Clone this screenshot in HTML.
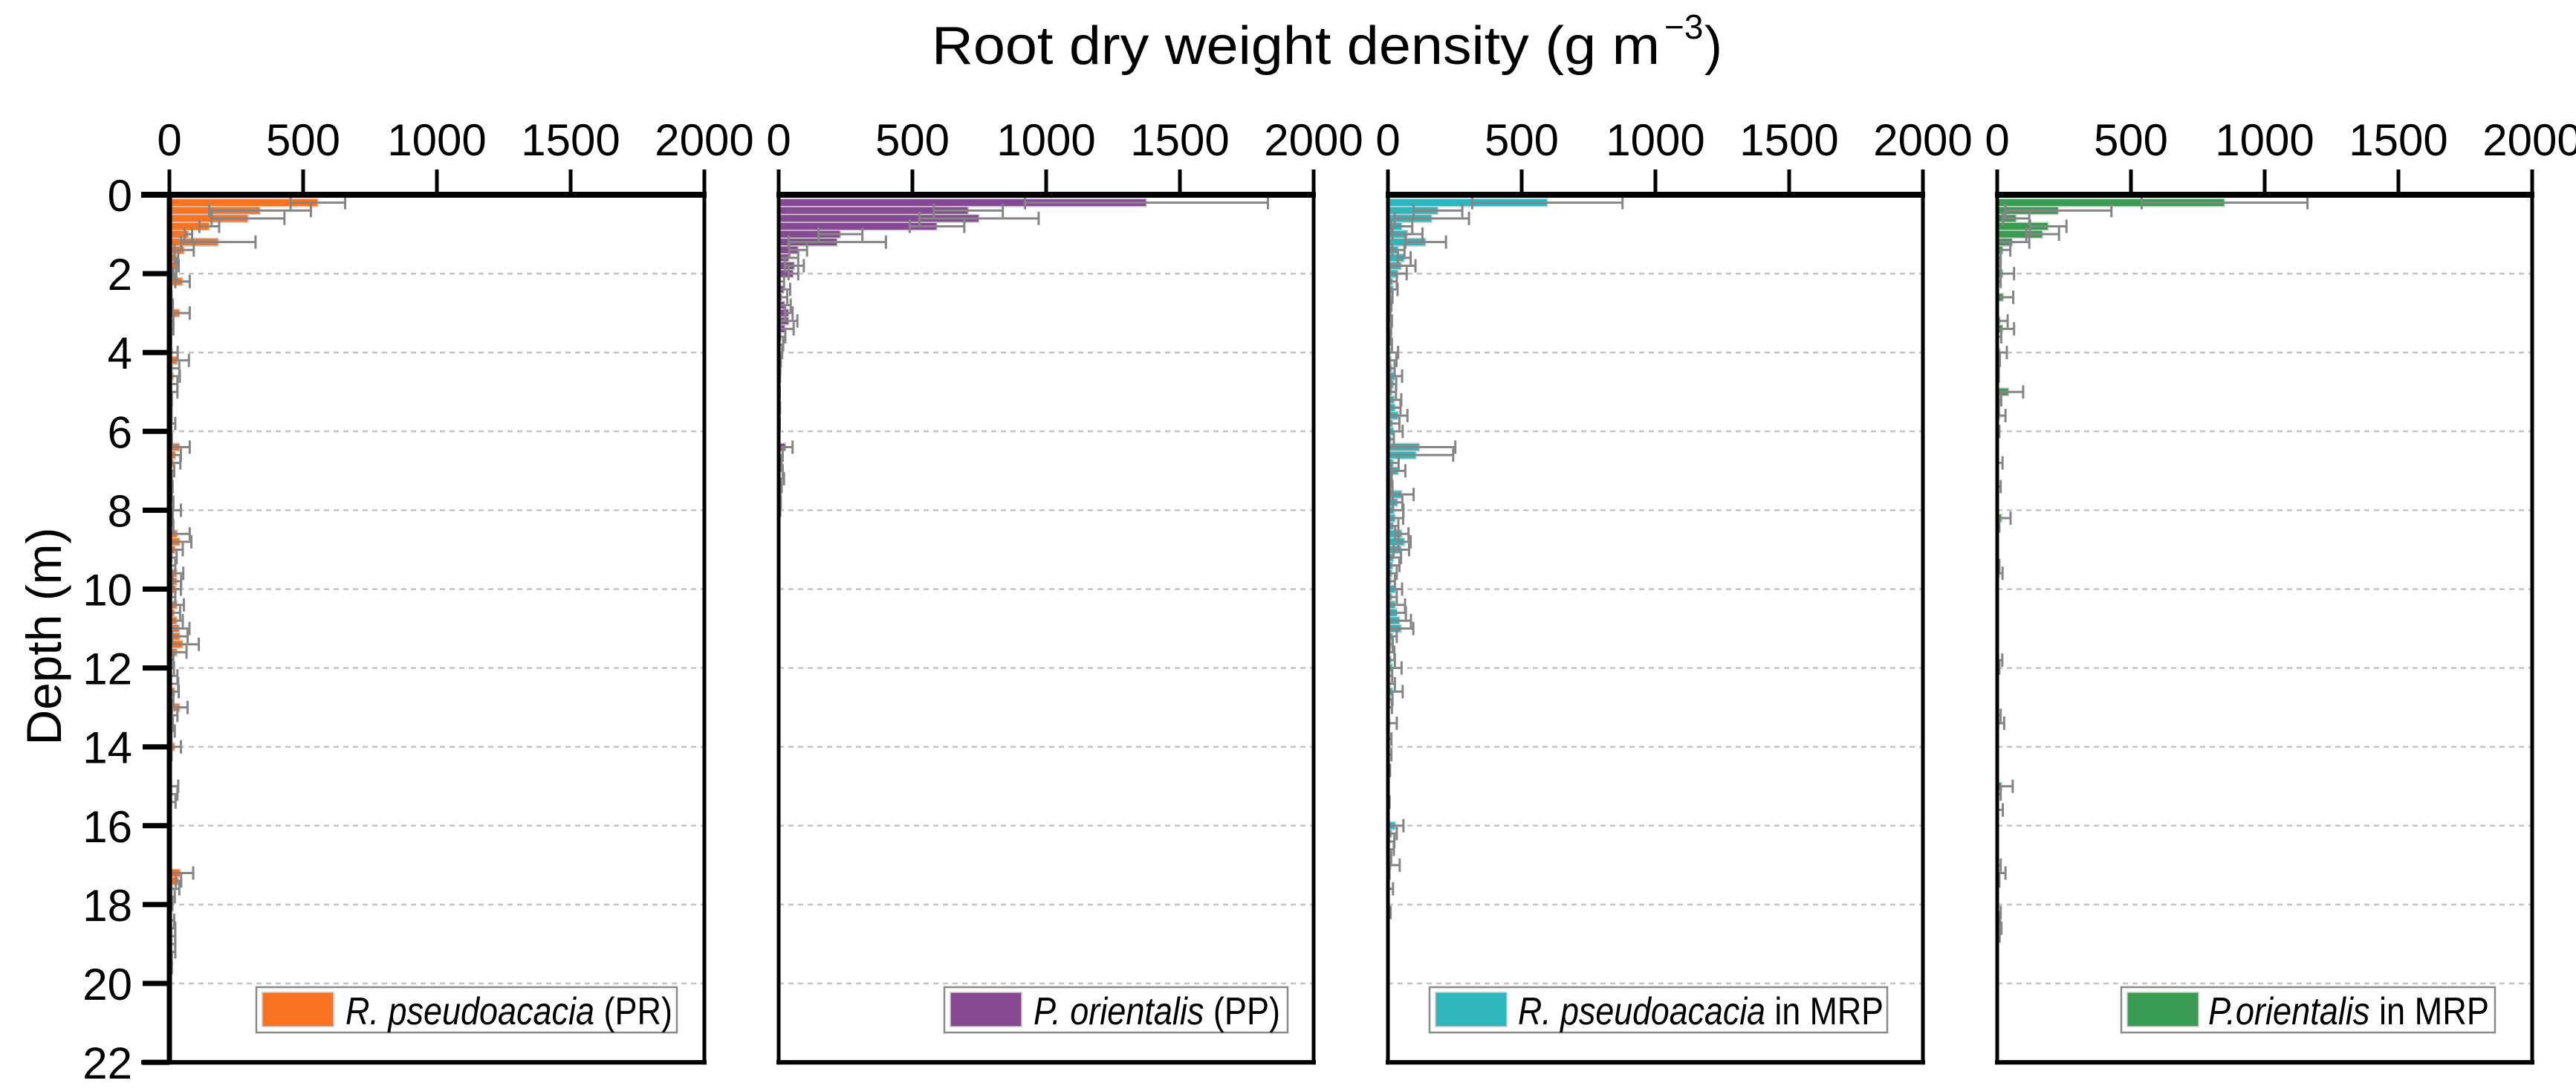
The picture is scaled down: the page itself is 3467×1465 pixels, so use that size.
<!DOCTYPE html>
<html><head><meta charset="utf-8"><title>Root dry weight density</title>
<style>html,body{margin:0;padding:0;background:#fff;}svg{display:block;}</style></head>
<body>
<svg id="chart" width="3467" height="1465" viewBox="0 0 3467 1465" xmlns="http://www.w3.org/2000/svg" font-family="Liberation Sans, Arial, sans-serif">
<text x="1254" y="86" font-size="72" textLength="980" lengthAdjust="spacingAndGlyphs">Root dry weight density (g m</text>
<text x="2240" y="52" font-size="46">−3</text>
<text x="2294" y="86" font-size="72">)</text>
<text transform="translate(82,856) rotate(-90)" text-anchor="middle" font-size="66" textLength="293" lengthAdjust="spacingAndGlyphs">Depth (m)</text>
<g id="panels"></g>
</svg>
<script>
// ---- data (depth in m, mean and sd in g m^-3) ----
const xTicks = [0, 500, 1000, 1500, 2000];
const yTicks = [0, 2, 4, 6, 8, 10, 12, 14, 16, 18, 20, 22];
const seriesNames = ["R. pseudoacacia", "P. orientalis", "R. pseudoacacia", "P.orientalis"];

const prDepth = [0.2,0.4,0.6,0.8,1.0,1.2,1.4,1.6,1.8,2.0,2.2,2.4,2.6,2.8,3.0,3.2,3.4,3.6,3.8,4.0,4.2,4.4,4.6,4.8,5.0,5.2,5.4,5.6,5.8,6.0,6.2,6.4,6.6,6.8,7.0,7.2,7.4,7.6,7.8,8.0,8.2,8.4,8.6,8.8,9.0,9.2,9.4,9.6,9.8,10.0,10.2,10.4,10.6,10.8,11.0,11.2,11.4,11.6,11.8,12.0,12.2,12.4,12.6,12.8,13.0,13.2,13.4,13.6,13.8,14.0,14.2,14.4,14.6,15.0,15.2,15.4,15.6,16.0,17.2,17.4,17.6,17.8,18.0,18.4,18.6,18.8,19.0,19.2,19.4,19.6];
const prMean = [555,339,294,149,71,183,55,26,30,20,49,3,3,5,38,3,3,2,2,11,30,12,15,10,10,3,3,3,8,2,3,38,23,15,8,3,4,3,5,15,5,5,30,39,22,11,8,28,28,25,10,29,18,28,37,39,50,29,5,5,8,5,20,5,39,10,5,5,3,20,3,2,2,8,8,8,2,2,41,34,12,10,5,8,10,10,10,10,5,5];
const prSd = [102,190,136,37,14,139,36,7,5,6,27,4,5,8,38,12,12,4,4,20,43,25,24,20,20,6,5,5,14,5,6,38,20,26,10,6,8,6,10,28,8,10,46,43,28,16,14,24,16,18,12,25,22,22,38,29,60,35,10,12,22,28,15,10,29,20,8,15,5,23,5,3,3,25,22,15,3,2,48,10,25,10,6,10,12,12,12,12,4,4];

const ppDepth = [0.2,0.4,0.6,0.8,1.0,1.2,1.4,1.6,1.8,2.0,2.2,2.4,2.6,2.8,3.0,3.2,3.4,3.6,3.8,4.0,4.2,4.4,4.6,5.0,5.4,5.8,6.4,6.6,6.8,7.0,7.2,7.4,7.6,7.8,8.0];
const ppMean = [1375,709,749,592,231,219,73,38,59,55,8,20,12,23,38,38,24,10,5,3,2,2,1,1,1,1,26,5,3,3,5,3,2,2,2];
const ppSd = [454,129,223,102,82,182,33,35,35,18,12,23,20,22,14,32,32,15,12,10,6,4,4,3,4,3,26,10,8,12,15,8,5,6,4];

const rmDepth = [0.2,0.4,0.6,0.8,1.0,1.2,1.4,1.6,1.8,2.0,2.2,2.4,2.6,2.8,3.0,3.2,3.4,3.6,3.8,4.0,4.2,4.4,4.6,4.8,5.0,5.2,5.4,5.6,5.8,6.0,6.2,6.4,6.6,6.8,7.0,7.2,7.4,7.6,7.8,8.0,8.2,8.4,8.6,8.8,9.0,9.2,9.4,9.6,9.8,10.0,10.2,10.4,10.6,10.8,11.0,11.2,11.4,11.6,11.8,12.0,12.2,12.4,12.6,12.8,13.0,13.4,13.8,14.2,14.6,15.4,16.0,16.2,16.4,16.6,16.8,17.0,17.2,17.6,18.2];
const rmMean = [596,187,164,52,73,141,39,61,50,38,18,20,12,5,3,5,4,3,5,10,12,15,27,21,15,24,27,39,18,21,12,118,105,20,39,9,12,52,36,24,27,21,52,62,50,21,18,15,12,28,15,28,35,44,50,17,12,6,12,17,8,8,18,9,5,8,3,3,2,2,28,15,7,5,5,12,3,3,5];
const rmSd = [281,91,139,39,56,76,23,24,53,32,15,16,5,8,6,10,8,8,10,28,20,10,26,10,15,26,20,34,25,34,10,134,139,20,26,5,5,44,18,34,30,18,25,23,29,28,25,18,14,25,18,36,32,42,45,16,6,18,14,34,8,18,37,8,10,25,10,10,6,4,30,18,17,17,7,32,3,16,5];

const pmDepth = [0.2,0.4,0.6,0.8,1.0,1.2,1.4,1.6,1.8,2.0,2.2,2.6,3.2,3.4,3.6,4.0,4.2,4.4,4.6,5.0,5.2,5.4,5.6,6.0,6.8,7.4,8.2,8.4,9.4,9.6,11.8,12.0,13.2,13.4,15.0,15.2,15.6,17.0,17.2,17.4,18.2,18.4,18.6,18.8];
const pmMean = [850,229,71,191,170,57,21,6,8,21,8,23,11,21,5,11,5,2,2,43,10,3,10,5,5,3,17,3,3,8,5,3,3,8,17,5,3,3,6,3,5,5,8,3];
const pmSd = [310,198,49,68,61,63,28,7,5,42,5,37,28,42,10,25,5,4,4,54,5,3,21,3,15,10,33,5,5,12,14,5,10,18,41,8,18,10,25,5,8,6,8,6];

const panelDepths = [prDepth, ppDepth, rmDepth, pmDepth];
const panelMeans = [prMean, ppMean, rmMean, pmMean];
const panelSds = [prSd, ppSd, rmSd, pmSd];

// ---- layout ----
const NS = "http://www.w3.org/2000/svg";
const colors = ["#F87422", "#854A92", "#2EB6BD", "#3A9B53"];
const legendBoxes = [[345,566,465,440," (PR)"],[1271,462,1391,332," (PP)"],[1924,616,2043,492," in MRP"],[2855,503,2972,378," in MRP"]];
const panelLeft0 = 228, panelStep = 820, panelW = 720;
const yTop = 262, pxPerM = 53.05, xMax = 2000;
function yScale(d){ return yTop + d * pxPerM; }
function mk(tag, attrs, parent){ const e = document.createElementNS(NS, tag); for (const k in attrs) e.setAttribute(k, attrs[k]); parent.appendChild(e); return e; }
const root = document.getElementById("panels");

for (let p = 0; p < 4; p++) {
  const L = panelLeft0 + p * panelStep, R = L + panelW;
  const xScale = v => L + v / xMax * panelW;
  const g = mk("g", {}, root);
  
  
  for (const t of yTicks) {
    if (t === 0 || t === 22) continue;
    const gl = mk("line", {x1: L, x2: R, y1: yScale(t), y2: yScale(t), stroke: "#c4c4c4", "stroke-width": 2.5, "stroke-dasharray": "7,6"}, g);
    
    
  }
  const dep = panelDepths[p], mean = panelMeans[p], sd = panelSds[p];
  const bh = 0.2 * pxPerM;
  for (let i = 0; i < dep.length; i++) {
    const yc = yScale(dep[i]);
    const bar = mk("rect", {x: L, y: yc - bh / 2, width: Math.max(0, xScale(mean[i]) - L), height: bh, fill: colors[p], stroke: "#cfcfcf", "stroke-width": 1.5}, g);
    
    
  }
  for (let i = 0; i < dep.length; i++) {
    const yc = yScale(dep[i]);
    const lo = Math.max(0, mean[i] - sd[i]), hi = mean[i] + sd[i];
    const eg = mk("g", {stroke: "#858585", "stroke-width": 3}, g);
    
    
    mk("line", {x1: xScale(lo), x2: xScale(hi), y1: yc, y2: yc}, eg);
    mk("line", {x1: xScale(hi), x2: xScale(hi), y1: yc - 9, y2: yc + 9}, eg);
    if (mean[i] - sd[i] > 0) mk("line", {x1: xScale(lo), x2: xScale(lo), y1: yc - 9, y2: yc + 9}, eg);
  }
  const yb = yScale(22);
  const fr = mk("g", {stroke: "#000", fill: "none"}, g);
  
  
  mk("line", {x1: L, x2: L, y1: yTop, y2: yb + 3, "stroke-width": p === 0 ? 7 : 5}, fr);
  mk("line", {x1: R, x2: R, y1: yTop, y2: yb + 3, "stroke-width": 5}, fr);
  mk("line", {x1: p === 0 ? L - 38 : L - 3, x2: R + 3, y1: yTop, y2: yTop, "stroke-width": 8}, fr);
  mk("line", {x1: p === 0 ? L - 38 : L - 3, x2: R + 3, y1: yb, y2: yb, "stroke-width": 6}, fr);
  for (const t of xTicks) {
    const x = xScale(t);
    const tk = mk("line", {x1: x, x2: x, y1: yTop - 34, y2: yTop, stroke: "#000", "stroke-width": 5}, g);
    
    
    const tl = mk("text", {x: x, y: 209, "font-size": 60, "text-anchor": "middle"}, g);
    tl.textContent = t;
    
    
  }
  if (p === 0) {
    for (const t of yTicks) {
      const y = yScale(t);
      const tk = mk("line", {x1: L - 36, x2: L, y1: y, y2: y, stroke: "#000", "stroke-width": 7}, g);
      
      
      const tl = mk("text", {x: 178, y: y + 22, "font-size": 60, "text-anchor": "end"}, g);
      tl.textContent = t;
      
      
    }
  }
  const lb = legendBoxes[p];
  const lg = mk("g", {}, g);
  
  
  mk("rect", {x: lb[0], y: 1328, width: lb[1], height: 61, fill: "#fff", stroke: "#8a8a8a", "stroke-width": 2.5}, lg);
  mk("rect", {x: lb[0] + 8, y: 1335, width: 96, height: 46, fill: colors[p], stroke: "#c8c8c8", "stroke-width": 1.5}, lg);
  const lt = mk("text", {x: lb[2], y: 1378, "font-size": 52, textLength: lb[3], lengthAdjust: "spacingAndGlyphs"}, lg);
  const it = mk("tspan", {"font-style": "italic"}, lt);
  it.textContent = seriesNames[p];
  const rt = mk("tspan", {}, lt);
  rt.textContent = lb[4];
}
</script>
</body></html>
